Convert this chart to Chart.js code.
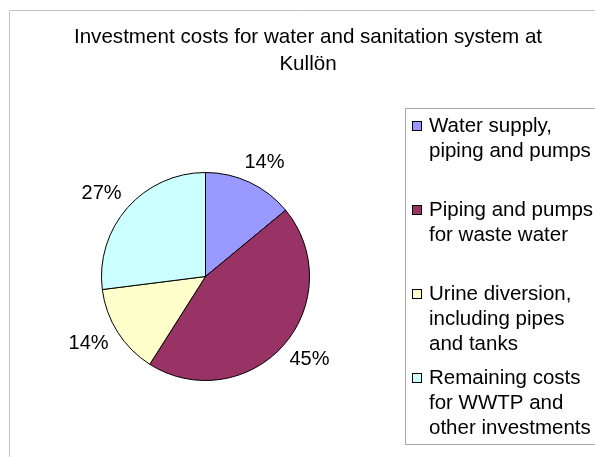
<!DOCTYPE html>
<html>
<head>
<meta charset="utf-8">
<script src="https://cdn.jsdelivr.net/npm/chart.js@4/dist/chart.umd.min.js"></script>
<style>
  html, body { margin: 0; padding: 0; background: #ffffff; }
  #wrap { width: 595px; height: 457px; position: relative; }
  canvas { display: block; }
</style>
</head>
<body>
<div id="wrap"><canvas id="c" width="595" height="457"></canvas></div>
<script>
// ---- data ----
const titleLines = ["Investment costs for water and sanitation system at", "Kullön"];
const categories = [
  ["Water supply,", "piping and pumps"],
  ["Piping and pumps", "for waste water"],
  ["Urine diversion,", "including pipes", "and tanks"],
  ["Remaining costs", "for WWTP and", "other investments"]
];
const shares = [14, 45, 14, 27];
const sliceColors = ["#9999FF", "#993366", "#FFFFCC", "#CCFFFF"];

const FONT = "Arial, 'Liberation Sans', sans-serif";

// frame, title, legend box
const framePlugin = {
  id: 'frame',
  beforeDraw(chart) {
    const ctx = chart.ctx;
    ctx.save();
    ctx.fillStyle = '#ffffff';
    ctx.fillRect(0, 0, chart.width, chart.height);
    ctx.strokeStyle = '#c4c4c4';
    ctx.lineWidth = 1;
    ctx.beginPath();
    ctx.moveTo(9.5, chart.height + 2);
    ctx.lineTo(9.5, 10.5);
    ctx.lineTo(chart.width + 2, 10.5);
    ctx.stroke();
    ctx.restore();
  },
  afterDraw(chart) {
    const ctx = chart.ctx;
    ctx.save();
    // title
    ctx.fillStyle = '#000000';
    ctx.font = '20.6px ' + FONT;
    ctx.textAlign = 'center';
    ctx.textBaseline = 'middle';
    titleLines.forEach((t, i) => ctx.fillText(t, 308, 37 + i * 27));

    // legend box
    ctx.strokeStyle = '#a8a8a8';
    ctx.lineWidth = 1;
    ctx.strokeRect(405.5, 108.5, 220, 336);

    // legend items
    const data = chart.data;
    const ds = data.datasets[0];
    ctx.textAlign = 'left';
    ctx.font = '20.5px ' + FONT;
    data.labels.forEach((lines, i) => {
      const y0 = 126 + i * 84;
      ctx.fillStyle = ds.backgroundColor[i];
      ctx.fillRect(412.5, y0 - 4.5, 9, 9);
      ctx.strokeStyle = '#000000';
      ctx.strokeRect(412.5, y0 - 4.5, 9, 9);
      ctx.fillStyle = '#000000';
      lines.forEach((ln, j) => ctx.fillText(ln, 429, y0 + j * 25));
    });

    // percentage labels outside the slices (box placed just beyond the rim)
    const meta = chart.getDatasetMeta(0);
    const total = ds.data.reduce((a, b) => a + b, 0);
    ctx.textAlign = 'center';
    ctx.font = '20px ' + FONT;
    meta.data.forEach((arc, i) => {
      const p = arc.getProps(['x', 'y', 'startAngle', 'endAngle', 'outerRadius'], true);
      const mid = (p.startAngle + p.endAngle) / 2;
      const txt = Math.round(ds.data[i] / total * 100) + '%';
      const w = ctx.measureText(txt).width;
      const h = 14;
      const ux = Math.cos(mid), uy = Math.sin(mid);
      const d = p.outerRadius + 14.5;
      const x = p.x + ux * d + ux * w / 2;
      const y = p.y + uy * d + uy * h / 2;
      ctx.fillStyle = '#000000';
      ctx.fillText(txt, x, y);
    });
    ctx.restore();
  }
};

new Chart(document.getElementById('c'), {
  type: 'pie',
  data: {
    labels: categories,
    datasets: [{
      data: shares,
      backgroundColor: sliceColors,
      borderColor: '#000000',
      borderWidth: 1
    }]
  },
  options: {
    responsive: false,
    animation: false,
    devicePixelRatio: 1,
    layout: { padding: { left: 101, top: 172, right: 285, bottom: 76 } },
    plugins: {
      legend: { display: false },
      title: { display: false },
      tooltip: { enabled: false }
    }
  },
  plugins: [framePlugin]
});
</script>
</body>
</html>
